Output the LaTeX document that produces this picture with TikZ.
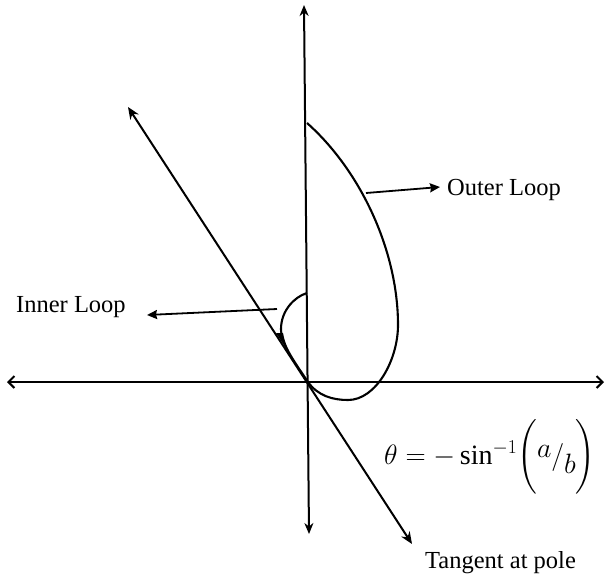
\RequirePackage{fix-cm}
\documentclass[tikz,border=0pt]{standalone}
\usepackage{amsmath}
\usepackage{fontspec}
\setmainfont{Liberation Serif}
\usetikzlibrary{arrows.meta}
\begin{document}
\begin{tikzpicture}[x=1pt,y=-1pt,
  axis/.style={line width=2pt},
  curve/.style={line width=2.1pt},
  lbl/.style={font=\fontsize{24.5}{28}\selectfont, inner sep=0pt},
  mlbl/.style={font=\fontsize{28}{32}\selectfont, inner sep=0pt},
  tipf/.style={-{Stealth[length=10pt,width=9pt,inset=1pt]}},
  tipo/.style={{Straight Barb[length=6pt,width=12pt,line width=2pt]}-{Straight Barb[length=6pt,width=12pt,line width=2pt]}}]
\useasboundingbox (0,0) rectangle (605,574);
% coordinates
\coordinate (O) at (308,382);
\coordinate (xl) at (7,382);
\coordinate (xr) at (604,382);
\coordinate (yt) at (304,5);
\coordinate (yb) at (309,534);
\coordinate (tl) at (128,107);
\coordinate (tr) at (412,544);
\coordinate (top) at (307,123);
\coordinate (itop) at (307,293);
\coordinate (oa1) at (366,193);
\coordinate (oa2) at (440,187);
\coordinate (ia1) at (277,309);
\coordinate (ia2) at (147,315);
% axes
\draw[axis,tipo] (xl) -- (xr);
\draw[axis,{Stealth[length=11pt,width=9pt]}-{Stealth[length=11pt,width=9pt]}] (yt) -- (yb);
% tangent line
\draw[axis,{Stealth[length=12pt,width=10pt]}-{Stealth[length=12pt,width=10pt]}] (tl) -- (tr);
% outer loop
\draw[curve] (O) .. controls (318,396) and (333,400) .. (348,400)
  .. controls (376,400) and (398,360) .. (398,325)
  .. controls (398,250) and (360,170) .. (top);
% inner loop
\draw[curve] (O) .. controls (296,364) and (281,344) .. (281,329)
  .. controls (281,311) and (294,297) .. (itop);
\fill (O) -- (276,333) -- (283,333) .. controls (286,350) and (296,366) .. (O) -- cycle;
% labels
\node[lbl, anchor=base west] (outer) at (447,195) {Outer Loop};
\node[lbl, anchor=base west] (inner) at (16,312) {Inner Loop};
\node[lbl, anchor=base west] (tang) at (425,568) {Tangent at pole};
\node[mlbl, anchor=west] (form) at (384,457)
  {$\theta = -\sin^{-1}\!\bigg(\raisebox{7pt}{$a$}/\raisebox{-9pt}{$b$}\bigg)$};
% label arrows
\draw[line width=1.8pt,tipf] (oa1) -- (oa2);
\draw[line width=1.8pt,tipf] (ia1) -- (ia2);
\end{tikzpicture}
\end{document}
